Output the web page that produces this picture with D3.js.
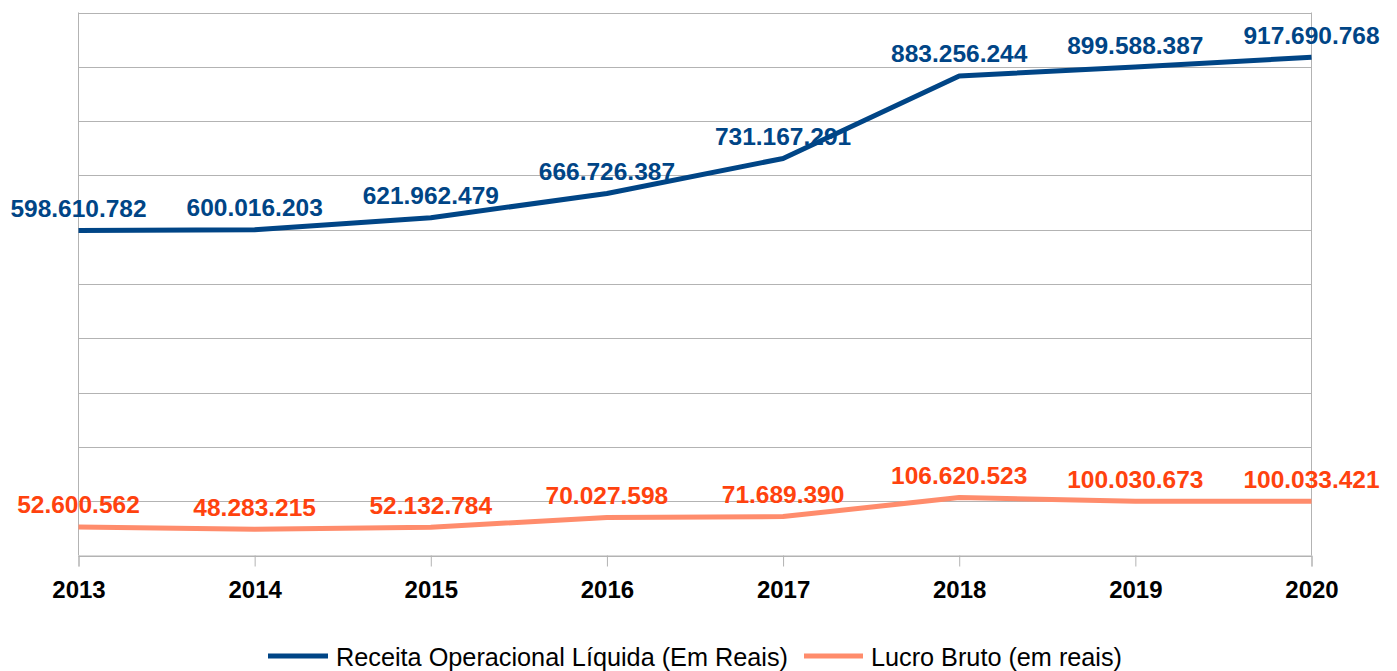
<!DOCTYPE html>
<html><head><meta charset="utf-8">
<script src="https://cdn.jsdelivr.net/npm/d3@7"></script>
<style>body{margin:0;background:#fff}svg{display:block}</style>
</head><body>
<script>
const years = ["2013","2014","2015","2016","2017","2018","2019","2020"];
const receita = [598610782,600016203,621962479,666726387,731167291,883256244,899588387,917690768];
const lucro = [52600562,48283215,52132784,70027598,71689390,106620523,100030673,100033421];
const receitaLabels = ["598.610.782","600.016.203","621.962.479","666.726.387","731.167.291","883.256.244","899.588.387","917.690.768"];
const lucroLabels = ["52.600.562","48.283.215","52.132.784","70.027.598","71.689.390","106.620.523","100.030.673","100.033.421"];
const yTicks = d3.range(0, 1000000001, 100000000);
const seriesNames = ["Receita Operacional Líquida (Em Reais)","Lucro Bruto (em reais)"];

const W=1397,H=671;
const m={l:78.5,r:1311.5,t:12.5,b:555.5};
const svg=d3.select("body").append("svg").attr("width",W).attr("height",H);
const x=d3.scalePoint().domain(years).range([m.l,m.r]);
const y=d3.scaleLinear().domain([0,1000000000]).range([m.b,m.t]);
const font="'Liberation Sans', Arial, sans-serif";

// grid
svg.append("g").selectAll("line").data(yTicks).join("line")
 .attr("x1",m.l).attr("x2",m.r).attr("y1",d=>Math.round(y(d))+0.5).attr("y2",d=>Math.round(y(d))+0.5)
 .attr("stroke","#b3b3b3").attr("stroke-width",1);
// left/right frame
svg.append("line").attr("x1",m.l).attr("x2",m.l).attr("y1",m.t).attr("y2",m.b).attr("stroke","#b3b3b3");
svg.append("line").attr("x1",m.r).attr("x2",m.r).attr("y1",m.t).attr("y2",m.b).attr("stroke","#b3b3b3");

// x axis
const xa=svg.append("g").attr("transform",`translate(0,${m.b})`)
 .call(d3.axisBottom(x).tickSize(11).tickPadding(14));
xa.select(".domain").attr("stroke","#b3b3b3");
xa.selectAll(".tick line").attr("stroke","#b3b3b3");
xa.selectAll(".tick text").attr("font-family",font).attr("font-size","24px").attr("font-weight","bold").attr("fill","#000");

const line=d3.line().x((d,i)=>x(years[i])).y(d=>y(d));
svg.append("path").datum(lucro).attr("d",line).attr("fill","none").attr("stroke","#ff8c6c").attr("stroke-width",5).attr("stroke-linejoin","round");
svg.append("path").datum(receita).attr("d",line).attr("fill","none").attr("stroke","#004586").attr("stroke-width",5).attr("stroke-linejoin","round");

svg.append("g").selectAll("text").data(receita).join("text")
 .attr("x",(d,i)=>x(years[i])).attr("y",d=>y(d)-13.5).attr("text-anchor","middle")
 .attr("font-family",font).attr("font-size","24.5px").attr("font-weight","bold").attr("fill","#004586")
 .text((d,i)=>receitaLabels[i]);
svg.append("g").selectAll("text").data(lucro).join("text")
 .attr("x",(d,i)=>x(years[i])).attr("y",d=>y(d)-13.5).attr("text-anchor","middle")
 .attr("font-family",font).attr("font-size","24.5px").attr("font-weight","bold").attr("fill","#ff420e")
 .text((d,i)=>lucroLabels[i]);

// legend
const leg=[{x1:268,x2:328,tx:336,tl:452,c:"#004586"},{x1:804,x2:863,tx:871,tl:251,c:"#ff8c6c"}];
leg.forEach((l,i)=>{
 svg.append("line").attr("x1",l.x1).attr("x2",l.x2).attr("y1",656).attr("y2",656).attr("stroke",l.c).attr("stroke-width",5);
 svg.append("text").attr("x",l.tx).attr("y",666).attr("font-family",font).attr("font-size","26px").attr("fill","#000")
  .attr("textLength",l.tl).attr("lengthAdjust","spacingAndGlyphs").text(seriesNames[i]);
});
</script>
</body></html>
